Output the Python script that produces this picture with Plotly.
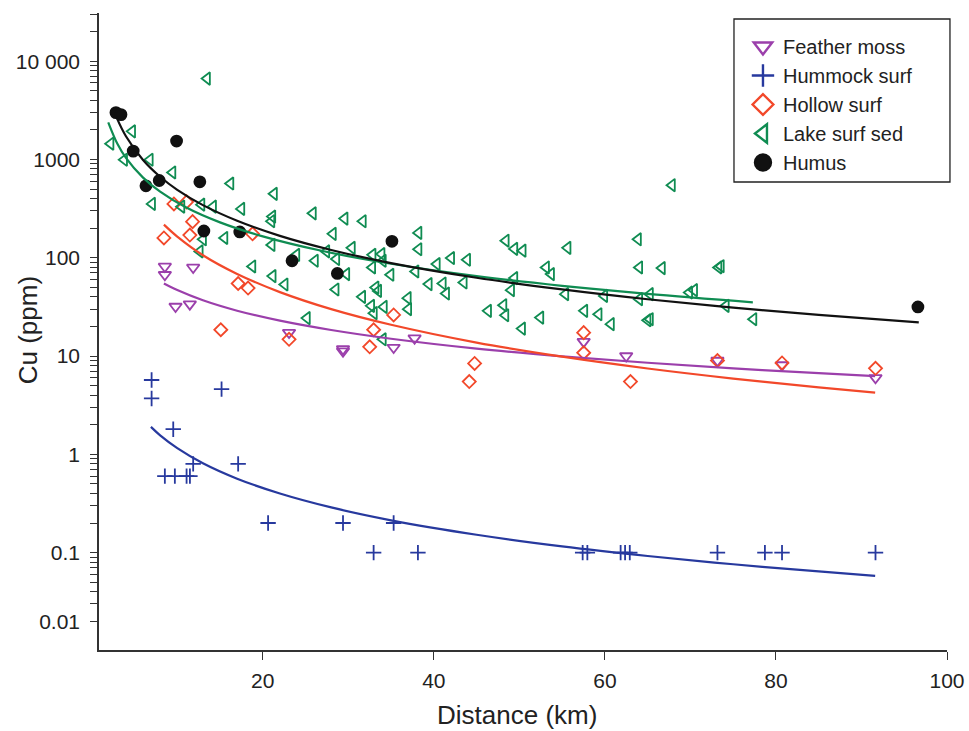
import plotly.graph_objects as go

# Feather moss
fm_x = [8.55, 8.55, 11.86, 9.80, 11.47, 23.07, 29.38, 29.38, 35.3, 37.75, 57.52, 62.49, 73.16, 80.71, 91.64]
fm_y = [81.5, 67.1, 79.6, 31.9, 33.7, 17.3, 11.8, 11.2, 12.2, 15.2, 14.0, 10.0, 9.0, 8.1, 6.0]

# Hummock surf
hs_x = [7.0, 7.0, 15.18, 9.53, 8.55, 9.72, 11.09, 11.48, 11.86, 17.12, 20.62, 29.38, 35.3,
        32.96, 38.14, 57.4, 57.95, 61.84, 62.36, 62.91, 73.16, 78.71, 80.71, 91.64]
hs_y = [5.7, 3.7, 4.6, 1.8, 0.6, 0.6, 0.6, 0.6, 0.8, 0.8, 0.2, 0.2, 0.2,
        0.1, 0.1, 0.1, 0.1, 0.1, 0.1, 0.1, 0.1, 0.1, 0.1, 0.1]

# Hollow surf
hl_x = [9.61, 11.09, 11.79, 11.47, 8.44, 18.80, 17.12, 18.28, 35.3, 32.96, 15.09, 23.07, 32.5,
        44.77, 44.14, 57.52, 57.52, 62.99, 73.16, 80.71, 91.64]
hl_y = [353, 370, 233, 170, 159, 175, 54.7, 49.1, 26.2, 18.5, 18.5, 14.8, 12.4,
        8.4, 5.5, 17.3, 10.8, 5.5, 9.0, 8.5, 7.5]

# Lake surf sed
ls_x = [13.49, 4.74, 2.21, 3.80, 6.80, 9.45, 7.07, 16.23, 21.32, 10.50, 12.84, 14.20, 17.51,
        21.13, 21.02, 25.87, 29.58, 31.71, 13.03, 15.53, 12.64, 21.05, 23.94, 27.44, 28.21,
        30.43, 26.11, 28.61, 32.85, 33.90, 32.81, 29.78, 34.95, 18.80, 21.17, 22.57, 28.53,
        31.64, 33.20, 33.51, 36.97, 32.69, 34.17, 37.02, 33.0, 25.17, 34.05, 34.05, 38.22,
        38.22, 40.36, 42.04, 43.91, 37.87, 39.42, 41.06, 41.45, 43.51, 46.36, 48.15, 48.38,
        48.42, 49.43, 50.40, 49.43, 49.05, 53.13, 53.72, 55.65, 55.39, 57.61, 59.28, 59.94,
        60.72, 63.88, 64.03, 66.68, 67.85, 64.03, 65.28, 65.0, 65.28, 69.87, 70.45, 73.29,
        73.57, 74.15, 77.38, 52.47, 50.33]
ls_y = [6650, 1932, 1446, 993, 993, 737, 353, 569, 447, 331, 347, 331, 314,
        262, 235, 283, 250, 235, 154, 159, 116, 135, 107, 116, 175,
        126, 93.2, 97, 107, 109, 79.6, 68.2, 67.1, 81.5, 65.0, 53.4, 47.5,
        40.0, 49.8, 46.0, 38.8, 32.4, 31.6, 30.0, 27.3, 24.3, 93.2, 14.8, 179,
        122, 86.2, 99.3, 95.4, 72.5, 53.9, 54.7, 43.2, 56.0, 28.8, 32.9, 26.0,
        149, 123, 118, 62.1, 46.8, 79.6, 68.2, 126, 42.6, 28.8, 26.6, 40.9,
        21.1, 154, 79.6, 78.5, 547, 37.9, 42.6, 23.1, 23.7, 44.3, 46.8, 79.6,
        82, 32.4, 23.7, 24.6, 19.0]

# Humus
hu_x = [2.83, 3.42, 4.85, 9.92, 6.34, 7.89, 12.64, 13.11, 17.31, 23.42, 28.72, 35.10, 96.6]
hu_y = [2996, 2858, 1216, 1538, 539, 611, 592, 187, 183, 93.2, 69.2, 147, 31.6]

# fitted curves
fit_fm_x = [8.44, 10, 13, 17, 22, 28, 35, 45, 55, 65, 75, 85, 91.6]
fit_fm_y = [54.7, 46.9, 36.9, 28.9, 22.9, 18.4, 15.0, 11.9, 9.94, 8.54, 7.49, 6.69, 6.25]
fit_hs_x = [6.92, 8, 10, 13, 17, 22, 28, 35, 45, 55, 65, 75, 85, 91.6]
fit_hs_y = [1.90, 1.56, 1.156, 0.811, 0.565, 0.399, 0.288, 0.213, 0.152, 0.1158, 0.0924, 0.0761, 0.0643, 0.0581]
fit_hl_x = [8.44, 10, 13, 17, 22, 28, 35, 45, 55, 65, 75, 85, 91.6]
fit_hl_y = [217, 164, 106, 68.4, 44.7, 30.0, 20.8, 13.7, 9.85, 7.47, 5.90, 4.80, 4.25]
fit_ls_x = [1.93, 3, 4, 6, 8, 11, 15, 20, 27, 35, 45, 55, 65, 77.3]
fit_ls_y = [2388, 1443, 1038, 653, 470, 326, 229, 165, 117, 86.8, 65.1, 51.8, 42.8, 35.1]
fit_hu_x = [2.9, 4, 6, 8, 10, 13, 17, 22, 28, 35, 45, 55, 65, 75, 85, 96.7]
fit_hu_y = [2680, 1723, 989, 667, 491, 343, 238, 167, 120, 88.3, 62.6, 47.6, 37.8, 31.1, 26.2, 22.0]

xtick_vals = [20, 40, 60, 80, 100]
ytick_major = [0.02, 0.1, 1, 10, 100, 1000, 10000]
ytick_text = ["0.01", "0.1", "1", "10", "100", "1000", "10 000"]

PURPLE = "#9b3fab"
BLUE = "#27399e"
ORANGE = "#f2482a"
GREEN = "#0f8c52"
BLACK = "#111111"
AXC = "#333333"
FONT = "Liberation Sans, Arial, sans-serif"

# all decade sub-ticks within the visible range
yvals, ytext = [], []
for e in range(-2, 5):
    for m in range(1, 10):
        v = m * 10 ** e
        if 0.0102 <= v <= 30900:
            yvals.append(v)
            lab = ""
            for tv, tt in zip(ytick_major, ytick_text):
                if abs(tv - v) < 1e-9 * max(1, v):
                    lab = tt
            ytext.append(lab)

fig = go.Figure()

series = [
    ("Feather moss", fm_x, fm_y, "triangle-down-open", PURPLE, 11),
    ("Hummock surf", hs_x, hs_y, "cross-thin-open", BLUE, 11),
    ("Hollow surf", hl_x, hl_y, "diamond-open", ORANGE, 10),
    ("Lake surf sed", ls_x, ls_y, "triangle-left-open", GREEN, 11),
    ("Humus", hu_x, hu_y, "circle", BLACK, 11),
]
for name, xs, ys, sym, col, sz in series:
    fig.add_trace(go.Scatter(x=xs, y=ys, mode="markers", name=name, showlegend=False,
                             marker=dict(symbol=sym, size=sz, color=col,
                                         line=dict(color=col, width=1.8))))

fits = [(fit_fm_x, fit_fm_y, PURPLE), (fit_hs_x, fit_hs_y, BLUE), (fit_hl_x, fit_hl_y, ORANGE),
        (fit_ls_x, fit_ls_y, GREEN), (fit_hu_x, fit_hu_y, BLACK)]
for xs, ys, col in fits:
    fig.add_trace(go.Scatter(x=xs, y=ys, mode="lines", showlegend=False, hoverinfo="skip",
                             line=dict(color=col, width=2.2, shape="spline")))

# legend entries with larger symbols
for name, xs, ys, sym, col, sz in series:
    fig.add_trace(go.Scatter(x=[None], y=[None], mode="markers", name=name,
                             marker=dict(symbol=sym, size=16, color=col,
                                         line=dict(color=col, width=2.4))))

fig.update_layout(
    width=969, height=731,
    margin=dict(l=99, r=22, t=13, b=81, autoexpand=False),
    paper_bgcolor="white", plot_bgcolor="white",
    font=dict(family=FONT, size=21, color="#222222"),
    legend=dict(x=0.7594, y=0.978, xanchor="left", yanchor="top",
                borderwidth=0, bgcolor="rgba(0,0,0,0)",
                font=dict(size=20), tracegroupgap=0, itemwidth=30),
    shapes=[dict(type="rect", xref="paper", yref="paper", x0=0.7488, x1=1.0035,
                 y0=0.7347, y1=0.9906, line=dict(color="#222222", width=1.3),
                 fillcolor="white", layer="below")],
    annotations=[
        dict(text="Cu (ppm)", xref="paper", yref="paper", x=-0.0837, y=0.502,
             textangle=-90, showarrow=False, font=dict(size=26), xanchor="center", yanchor="middle"),
        dict(text="Distance (km)", xref="paper", yref="paper", x=0.4935, y=-0.102,
             showarrow=False, font=dict(size=26), xanchor="center", yanchor="middle"),
    ],
)
fig.update_xaxes(range=[0.85, 100], tickvals=xtick_vals, ticks="outside", ticklen=8,
                 tickwidth=1.3, tickcolor=AXC, showline=True, linecolor=AXC, linewidth=1.5,
                 showgrid=False, zeroline=False, tickfont=dict(size=21), ticklabelstandoff=3)
fig.update_yaxes(type="log", range=[-1.991, 4.49], tickmode="array", tickvals=yvals, ticktext=ytext,
                 ticks="outside", ticklen=7, tickwidth=1.3, tickcolor=AXC, showline=True,
                 linecolor=AXC, linewidth=1.5, showgrid=False, zeroline=False,
                 tickfont=dict(size=21), ticklabelstandoff=6)

fig.write_html("out.html", config={"displayModeBar": False},
               post_script="document.body.style.margin='0';document.body.style.overflow='hidden';")
